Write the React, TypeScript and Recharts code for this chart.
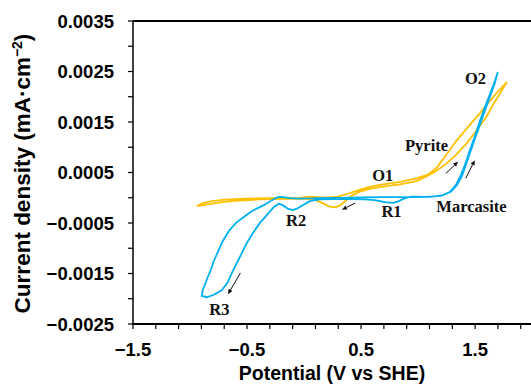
import React from 'react';
import { ComposedChart, Line, Scatter, XAxis, YAxis, ReferenceLine } from 'recharts';

// cyclic voltammograms: [potential (V vs SHE), current density (mA/cm2)]
const pyriteCurve: [number, number][] = [
  [-0.941, -0.000167], [-0.889, -0.000107], [-0.81, -0.000067], [-0.696, -0.000038],
  [-0.52, -0.000018], [-0.301, -0.000008], [-0.038, -0.000004], [0.05, 0.00002],
  [0.182, 0.0], [0.296, 0.000022], [0.401, 0.000091], [0.506, 0.00017],
  [0.594, 0.000224], [0.69, 0.000264], [0.84, 0.000315], [0.986, 0.000383],
  [1.085, 0.000458], [1.164, 0.000597], [1.243, 0.000835], [1.337, 0.001132],
  [1.436, 0.001399], [1.541, 0.001671], [1.629, 0.001915], [1.708, 0.002123],
  [1.778, 0.002291],
  // reverse sweep
  [1.726, 0.002093], [1.655, 0.001836], [1.6, 0.001604], [1.515, 0.00134],
  [1.425, 0.001076], [1.331, 0.000844], [1.243, 0.000666], [1.155, 0.000527],
  [1.068, 0.000418], [0.986, 0.000329], [0.84, 0.000264], [0.69, 0.00022],
  [0.576, 0.000174], [0.489, 0.000121], [0.418, 0.000042], [0.366, -0.000057],
  [0.313, -0.000157], [0.269, -0.000192], [0.225, -0.000176], [0.164, -0.000107],
  [0.103, -0.000048], [0.006, -0.000024], [-0.169, -0.000024], [-0.389, -0.000034],
  [-0.564, -0.000054], [-0.722, -0.000087], [-0.845, -0.000133], [-0.941, -0.000167],
];

const marcasiteCurve: [number, number][] = [
  [0.936, 0.000022], [0.875, -0.000018], [0.822, -0.000077], [0.778, -0.000101],
  [0.708, -0.000087], [0.62, -0.000048], [0.533, -0.000034], [0.401, -0.000028],
  [0.269, -0.000028], [0.138, -0.000034], [0.05, -0.000067], [-0.011, -0.000147],
  [-0.064, -0.000216], [-0.099, -0.000246], [-0.143, -0.000216], [-0.187, -0.000147],
  [-0.222, -0.000117], [-0.266, -0.000186], [-0.327, -0.000345], [-0.389, -0.000503],
  [-0.45, -0.000702], [-0.503, -0.0009], [-0.546, -0.001098], [-0.59, -0.001296],
  [-0.634, -0.001495], [-0.669, -0.001673], [-0.722, -0.001832], [-0.792, -0.001921],
  [-0.853, -0.00197], [-0.897, -0.001941],
  // anodic sweep
  [-0.889, -0.001832], [-0.871, -0.001732], [-0.845, -0.001574], [-0.818, -0.001435],
  [-0.792, -0.001257], [-0.757, -0.001078], [-0.713, -0.00086], [-0.661, -0.000662],
  [-0.599, -0.000503], [-0.52, -0.000365], [-0.459, -0.000266], [-0.406, -0.000206],
  [-0.345, -0.000137], [-0.283, -0.000048], [-0.231, 0.000012], [-0.196, 0.000016],
  [-0.125, -0.000008], [-0.038, -0.000018], [0.138, -0.000008], [0.401, 0.000002],
  [0.664, 0.000012], [0.927, 0.000012], [1.103, 0.000016], [1.208, 0.000042],
  [1.278, 0.000111], [1.331, 0.00025], [1.375, 0.000448], [1.41, 0.000646],
  [1.445, 0.000884], [1.489, 0.001162], [1.533, 0.001459], [1.576, 0.001736],
  [1.62, 0.001994], [1.664, 0.002252], [1.699, 0.00249],
  // back to the start
  [1.673, 0.002272], [1.629, 0.001994], [1.585, 0.001717], [1.541, 0.001439],
  [1.497, 0.001162], [1.454, 0.000884], [1.418, 0.000646], [1.384, 0.000428],
  [1.34, 0.00025], [1.287, 0.000121], [1.217, 0.000052], [1.147, 0.000026],
  [1.059, 0.000016], [0.936, 0.000022],
];

const potentialTicks = [-1.5, -1.3, -1.1, -0.9, -0.7, -0.5, -0.3, -0.1, 0.1, 0.3, 0.5, 0.7, 0.9, 1.1, 1.3, 1.5, 1.7, 1.9];
const potentialLabels = [-1.5, -0.5, 0.5, 1.5];
const currentTicks = [-0.0025, -0.002, -0.0015, -0.001, -0.0005, 0, 0.0005, 0.001, 0.0015, 0.002, 0.0025, 0.003, 0.0035];
const currentLabels = [-0.0025, -0.0015, -0.0005, 0.0005, 0.0015, 0.0025, 0.0035];

// peak labels, anchored at text baseline centre
const peakLabels = [
  { x: 1.504, y: 0.002252, text: 'O2' },
  { x: 1.074, y: 0.00093, text: 'Pyrite' },
  { x: 0.69, y: 0.000335, text: 'O1' },
  { x: 0.767, y: -0.000379, text: 'R1' },
  { x: 1.468, y: -0.000279, text: 'Marcasite' },
  { x: -0.07, y: -0.000557, text: 'R2' },
  { x: -0.742, y: -0.002327, text: 'R3' },
];

// scan direction arrows: [x1, y1, x2, y2]
const scanArrows: [number, number, number, number][] = [
  [0.45, -0.000103, 0.332, -0.000236],
  [1.243, 0.000482, 1.351, 0.000712],
  [1.418, 0.000383, 1.497, 0.000745],
  [-0.558, -0.001489, -0.667, -0.001911],
];

const toPoints = (rows: [number, number][]) => rows.map(([x, y]) => ({ x, y }));
const pyriteData = toPoints(pyriteCurve);
const marcasiteData = toPoints(marcasiteCurve);

const AXIS_FONT = '"Liberation Sans", Arial, sans-serif';
const fmtMinus = (s: string) => s.replace('-', '\u2212');

const ArrowShape = (p: any) => {
  const { x1, y1, x2, y2 } = p;
  const a = Math.atan2(y2 - y1, x2 - x1);
  const L = 5;
  const W = 2.2;
  const bx = x2 - L * Math.cos(a);
  const by = y2 - L * Math.sin(a);
  const px = -Math.sin(a) * W;
  const py = Math.cos(a) * W;
  return (
    <g>
      <line x1={x1} y1={y1} x2={bx} y2={by} stroke="#111" strokeWidth={1} />
      <polygon points={`${x2},${y2} ${bx + px},${by + py} ${bx - px},${by - py}`} fill="#111" />
    </g>
  );
};

const PeakText = (p: any) => (
  <text
    x={p.cx}
    y={p.cy}
    textAnchor="middle"
    fontFamily='"Liberation Serif", "Times New Roman", serif'
    fontWeight="bold"
    fontSize={16.5}
    fill="#111"
  >
    {p.payload.text}
  </text>
);

const YTitle = (props: any) => {
  const vb = props.viewBox;
  const cx = vb.x + 30;
  const cy = vb.y + vb.height / 2 + 1;
  return (
    <text
      x={cx}
      y={cy}
      transform={`rotate(-90, ${cx}, ${cy})`}
      textAnchor="middle"
      fontFamily={AXIS_FONT}
      fontWeight="bold"
      fontSize={22.5}
      fill="#000"
    >
      Current density (mA·cm
      <tspan dy={-8} fontSize={14}>{'\u22122'}</tspan>
      <tspan dy={8}>)</tspan>
    </text>
  );
};

export default function App() {
  return (
    <div style={{ position: 'absolute', left: 0, top: 0, width: 531, height: 384, background: '#fff' }}>
      <ComposedChart width={531} height={384} margin={{ top: 21, right: 0, left: 0, bottom: 0 }}>
        <XAxis
          type="number"
          dataKey="x"
          domain={[-1.5, 1.99]}
          allowDataOverflow
          ticks={potentialTicks}
          interval={0}
          tickFormatter={(v: number) =>
            potentialLabels.some((t) => Math.abs(t - v) < 1e-6) ? fmtMinus(v.toFixed(1)) : ''
          }
          height={60}
          tickSize={5}
          tickMargin={14}
          axisLine={{ stroke: '#000', strokeWidth: 2 }}
          tickLine={{ stroke: '#000', strokeWidth: 1.2 }}
          tick={{ fill: '#000', fontSize: 18.5, fontWeight: 'bold', fontFamily: AXIS_FONT }}
          label={{
            value: 'Potential (V vs SHE)',
            position: 'insideBottom',
            offset: 4,
            fill: '#000',
            fontSize: 19.5,
            fontWeight: 'bold',
            fontFamily: AXIS_FONT,
          }}
        />
        <YAxis
          type="number"
          dataKey="y"
          domain={[-0.0025, 0.0035]}
          allowDataOverflow
          ticks={currentTicks}
          interval={0}
          tickFormatter={(v: number) =>
            currentLabels.some((t) => Math.abs(t - v) < 1e-9) ? fmtMinus(v.toFixed(4)) : ''
          }
          width={133}
          tickSize={5}
          tickMargin={14}
          axisLine={{ stroke: '#000', strokeWidth: 1.5 }}
          tickLine={{ stroke: '#000', strokeWidth: 1.2 }}
          tick={{ fill: '#000', fontSize: 18.5, fontWeight: 'bold', fontFamily: AXIS_FONT }}
          label={{ content: YTitle }}
        />
        <ReferenceLine y={0.0035} stroke="#000" strokeWidth={2} />
        <Line
          data={pyriteData}
          dataKey="y"
          type="linear"
          stroke="#FFC000"
          strokeWidth={1.8}
          dot={false}
          activeDot={false}
          isAnimationActive={false}
        />
        <Line
          data={marcasiteData}
          dataKey="y"
          type="linear"
          stroke="#00B0F0"
          strokeWidth={1.8}
          dot={false}
          activeDot={false}
          isAnimationActive={false}
        />
        {scanArrows.map(([x1, y1, x2, y2], i) => (
          <ReferenceLine
            key={`arrow-${i}`}
            segment={[{ x: x1, y: y1 }, { x: x2, y: y2 }]}
            ifOverflow="visible"
            shape={ArrowShape}
          />
        ))}
        <Scatter data={peakLabels} dataKey="y" shape={PeakText} isAnimationActive={false} />
      </ComposedChart>
    </div>
  );
}
